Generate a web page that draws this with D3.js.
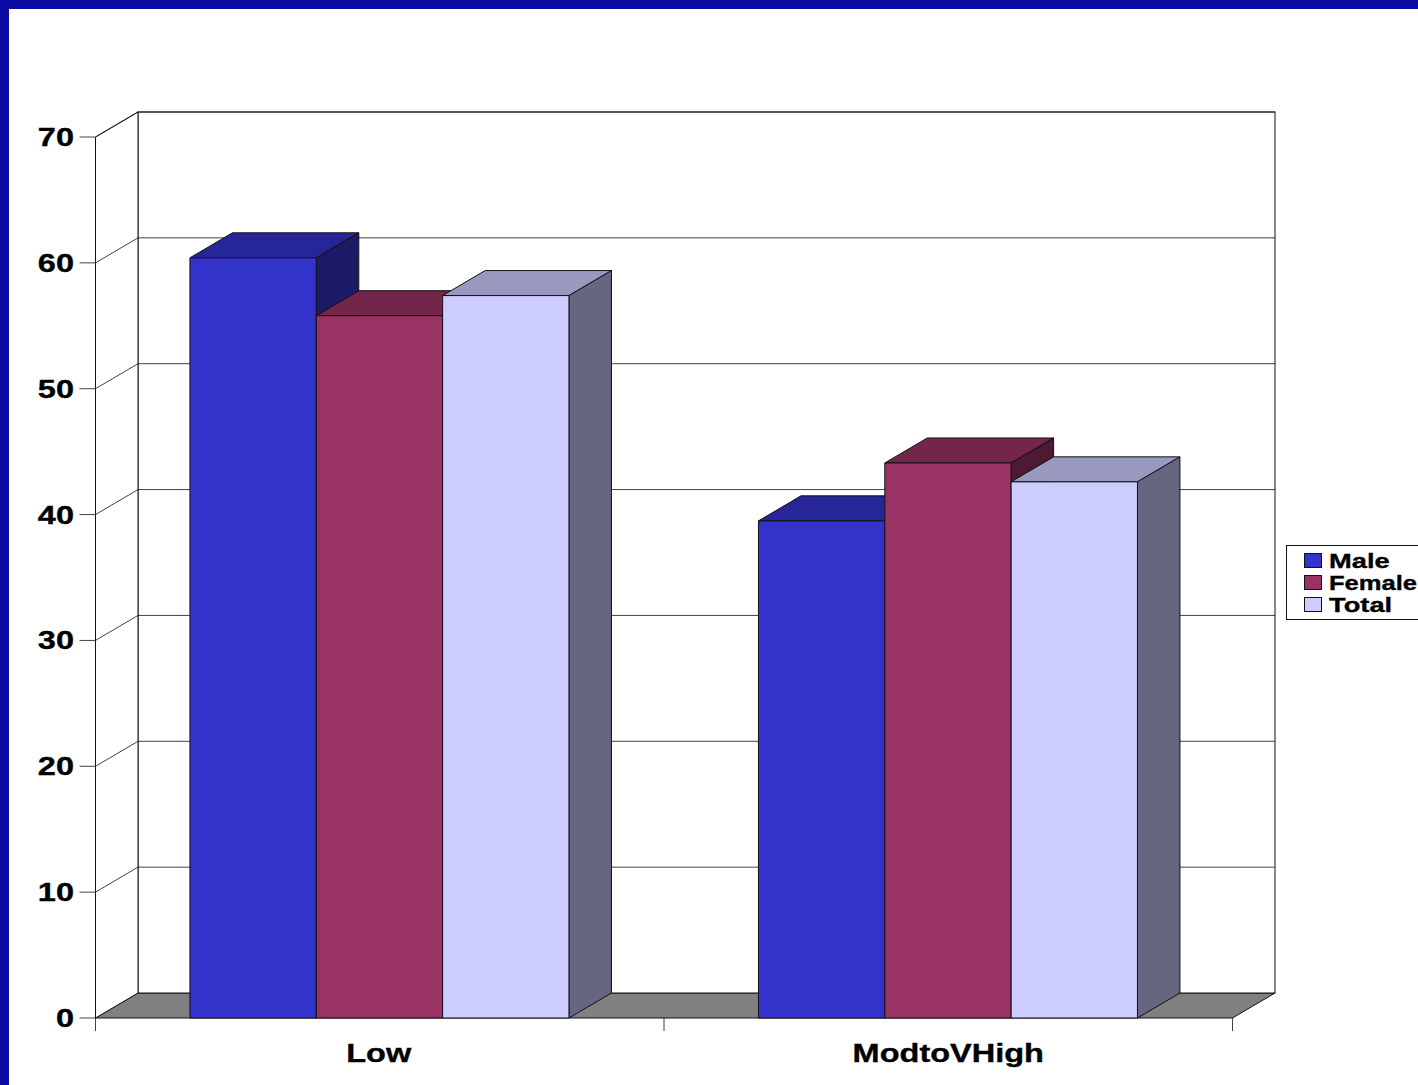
<!DOCTYPE html>
<html><head><meta charset="utf-8">
<script src="https://cdn.jsdelivr.net/npm/d3@7"></script>
<style>html,body{margin:0;padding:0;background:#fff}svg{display:block}
text{font-family:"Liberation Sans",Arial,sans-serif;font-weight:bold;fill:#000;stroke:#000;stroke-width:0.35px}</style></head>
<body><svg id="c" width="1418" height="1085"></svg>
<script>
const categories = ["Low","ModtoVHigh"];
const seriesNames = ["Male","Female","Total"];
const male = [60.4,39.5];
const female = [55.8,44.1];
const total = [57.4,42.6];
const yTicks = [0,10,20,30,40,50,60,70];
const seriesValues = [male,female,total];
const front = ["#3333CC","#993366","#CCCCFF"];
const topC = ["#262699","#732649","#9999BF"];
const sideC = ["#1A1A66","#4D1A33","#666680"];

const svg = d3.select("#c");
svg.append("rect").attr("width",1418).attr("height",9).attr("fill","#0A0AA5");
svg.append("rect").attr("width",9).attr("height",1085).attr("fill","#0A0AA5");

const dx = 42.5, dy = -25;
const y = d3.scaleLinear().domain([0,70]).range([1018,137]);
const x0 = d3.scaleBand().domain(categories).range([95.5,1232.5]);
const x1 = d3.scaleBand().domain(seriesNames).range([0,x0.bandwidth()]).paddingOuter(0.75).paddingInner(0);
const xL = x0.range()[0], xR = x0.range()[1];
const stroke = "#111";
const poly = pts => pts.map(p=>p.join(",")).join(" ");

svg.append("polygon").attr("points",poly([[xL,y(0)],[xL+dx,y(0)+dy],[xR+dx,y(0)+dy],[xR,y(0)]])).attr("fill","#808080").attr("stroke",stroke).attr("stroke-width",1);
svg.append("rect").attr("x",xL+dx).attr("y",y(70)+dy).attr("width",xR-xL).attr("height",y(0)-y(70)).attr("fill","#fff").attr("stroke",stroke).attr("stroke-width",1);
svg.append("polygon").attr("points",poly([[xL,y(0)],[xL+dx,y(0)+dy],[xL+dx,y(70)+dy],[xL,y(70)]])).attr("fill","#fff").attr("stroke",stroke).attr("stroke-width",1);

const grid = svg.append("g").attr("fill","none").attr("stroke",stroke).attr("stroke-width",0.8);
yTicks.filter(v=>v>0).forEach(v=>{
  grid.append("polyline").attr("points",poly([[xL,y(v)],[xL+dx,y(v)+dy],[xR+dx,y(v)+dy]]));
});
yTicks.forEach(v=>{
  grid.append("line").attr("x1",xL-16).attr("x2",xL).attr("y1",y(v)).attr("y2",y(v));
});
[xL,xL+x0.step(),xR].forEach(v=>{
  grid.append("line").attr("x1",v).attr("x2",v).attr("y1",y(0)).attr("y2",y(0)+13);
});

categories.forEach((c,ci)=>{
  seriesNames.forEach((s,si)=>{
    const v = seriesValues[si][ci];
    const a = x0(c)+x1(s)-0.3, w = x1.bandwidth(), t = y(v), b = y(0);
    const g = svg.append("g").attr("stroke",stroke).attr("stroke-width",1).attr("stroke-linejoin","round");
    g.append("polygon").attr("points",poly([[a,t],[a+dx,t+dy],[a+w+dx,t+dy],[a+w,t]])).attr("fill",topC[si]);
    g.append("polygon").attr("points",poly([[a+w,t],[a+w+dx,t+dy],[a+w+dx,b+dy],[a+w,b]])).attr("fill",sideC[si]);
    g.append("rect").attr("x",a).attr("y",t).attr("width",w).attr("height",b-t).attr("fill",front[si]);
  });
});

function label(px,py,str,size,sx,anchor,maxRight){
  const t = svg.append("text").attr("transform",`translate(${px},${py}) scale(${sx},1)`)
    .attr("font-size",size).attr("text-anchor",anchor).text(str);
  if(maxRight){
    const len = t.node().getComputedTextLength();
    if(px+len*sx>maxRight) t.attr("transform",`translate(${px},${py}) scale(${(maxRight-px)/len},1)`);
  }
}
yTicks.forEach(v=>label(74,y(v)+9,String(v),25,1.3,"end"));
categories.forEach(c=>label(x0(c)+x0.bandwidth()/2-(c==="Low"?1:0),1062,c,25,1.3,"middle"));

svg.append("rect").attr("x",1286.5).attr("y",545.5).attr("width",140).attr("height",74).attr("fill","#fff").attr("stroke",stroke).attr("stroke-width",1);
seriesNames.forEach((s,i)=>{
  const yy = 553.5+22*i;
  svg.append("rect").attr("x",1304.5).attr("y",yy).attr("width",17).attr("height",14).attr("fill",front[i]).attr("stroke",stroke).attr("stroke-width",1);
  label(1329,yy+14,s,21,1.3,"start",1417);
});
</script></body></html>
